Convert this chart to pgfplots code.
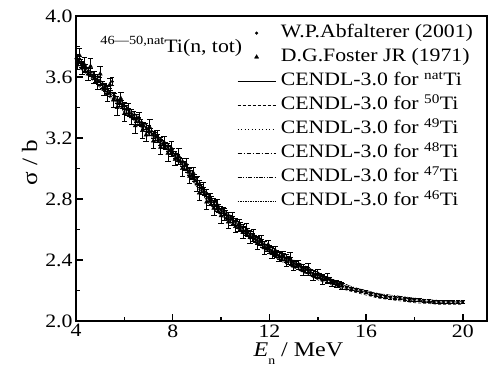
\documentclass[border=0pt]{standalone}
\usepackage{pgfplots}
\pgfplotsset{compat=1.18}
\usepackage{pgfplotstable}
\usepackage{fontspec}
\setmainfont{Liberation Serif}[FakeStretch=1.15]

\pgfplotstableread{
E nat t50 t49 t48 t47 t46
4.0 3.71 3.68 3.72 3.70 3.73 3.69
4.5 3.64 3.61 3.65 3.63 3.66 3.62
5.0 3.56 3.53 3.57 3.55 3.58 3.54
5.5 3.48 3.45 3.49 3.47 3.50 3.46
6.0 3.40 3.37 3.41 3.39 3.42 3.38
6.5 3.33 3.30 3.34 3.32 3.35 3.31
7.0 3.25 3.22 3.26 3.24 3.27 3.23
7.5 3.18 3.15 3.19 3.17 3.20 3.16
8.0 3.11 3.08 3.12 3.10 3.13 3.09
8.5 3.02 2.99 3.03 3.01 3.04 3.00
9.0 2.91 2.88 2.92 2.90 2.93 2.89
9.5 2.80 2.77 2.81 2.79 2.82 2.78
10.0 2.72 2.69 2.73 2.71 2.74 2.70
10.5 2.66 2.63 2.67 2.65 2.68 2.64
11.0 2.59 2.56 2.60 2.58 2.61 2.57
11.5 2.53 2.50 2.54 2.52 2.55 2.51
12.0 2.47 2.44 2.48 2.46 2.49 2.45
12.5 2.42 2.39 2.43 2.41 2.44 2.40
13.0 2.38 2.35 2.39 2.37 2.40 2.36
13.5 2.34 2.31 2.35 2.33 2.36 2.32
14.0 2.30 2.27 2.31 2.29 2.32 2.28
14.5 2.27 2.24 2.28 2.26 2.28 2.25
15.0 2.24 2.21 2.25 2.23 2.25 2.22
15.5 2.21 2.19 2.22 2.20 2.22 2.20
16.0 2.19 2.17 2.20 2.18 2.20 2.18
16.5 2.17 2.15 2.18 2.16 2.18 2.16
17.0 2.16 2.14 2.17 2.15 2.17 2.15
17.5 2.15 2.13 2.16 2.14 2.16 2.14
18.0 2.14 2.12 2.15 2.13 2.15 2.13
18.5 2.13 2.115 2.14 2.125 2.14 2.12
19.0 2.125 2.11 2.135 2.12 2.135 2.115
19.5 2.125 2.11 2.13 2.12 2.13 2.115
20.0 2.125 2.11 2.13 2.12 2.13 2.115
}\cendl

\pgfplotstableread{
E s err
4.0 3.72 0.025
4.1 3.70 0.025
4.2 3.69 0.025
4.3 3.68 0.025
4.4 3.66 0.025
4.5 3.64 0.025
4.6 3.63 0.025
4.7 3.61 0.025
4.8 3.59 0.025
4.9 3.58 0.025
5.0 3.57 0.025
5.1 3.55 0.025
5.2 3.53 0.025
5.3 3.52 0.025
5.4 3.50 0.025
5.5 3.57 0.025
5.6 3.47 0.025
5.7 3.45 0.025
5.8 3.43 0.025
5.9 3.42 0.025
6.0 3.41 0.025
6.1 3.39 0.025
6.2 3.37 0.025
6.3 3.36 0.025
6.4 3.35 0.025
6.5 3.33 0.025
6.6 3.31 0.025
6.7 3.30 0.025
6.8 3.28 0.025
6.9 3.27 0.025
7.0 3.26 0.025
7.1 3.24 0.025
7.2 3.22 0.025
7.3 3.21 0.025
7.4 3.20 0.025
7.5 3.18 0.025
7.6 3.16 0.025
7.7 3.15 0.025
7.8 3.14 0.025
7.9 3.12 0.025
8.0 3.11 0.025
8.1 3.09 0.025
8.2 3.07 0.025
8.3 3.05 0.025
8.4 3.04 0.025
8.5 3.02 0.025
8.6 3.00 0.025
8.7 2.98 0.025
8.8 2.96 0.025
8.9 2.94 0.025
9.0 2.92 0.025
9.1 2.90 0.025
9.2 2.87 0.025
9.3 2.85 0.025
9.4 2.84 0.025
9.5 2.81 0.025
9.6 2.79 0.025
9.7 2.78 0.025
9.8 2.76 0.025
9.9 2.74 0.025
10.0 2.73 0.025
10.1 2.72 0.025
10.2 2.70 0.025
10.3 2.69 0.025
10.4 2.67 0.025
10.5 2.66 0.025
10.6 2.65 0.025
10.7 2.63 0.025
10.8 2.62 0.025
10.9 2.61 0.025
11.0 2.59 0.025
11.1 2.58 0.025
11.2 2.57 0.025
11.3 2.55 0.025
11.4 2.54 0.025
11.5 2.53 0.025
11.6 2.52 0.025
11.7 2.51 0.025
11.8 2.50 0.025
11.9 2.48 0.025
12.0 2.47 0.025
12.1 2.46 0.025
12.2 2.45 0.025
12.3 2.44 0.025
12.4 2.43 0.025
12.5 2.42 0.025
12.6 2.42 0.025
12.7 2.41 0.025
12.8 2.40 0.025
12.9 2.39 0.025
13.0 2.38 0.02
13.1 2.37 0.02
13.2 2.36 0.02
13.3 2.355 0.02
13.4 2.35 0.02
13.5 2.34 0.02
13.6 2.33 0.02
13.7 2.32 0.02
13.8 2.31 0.02
13.9 2.305 0.02
14.0 2.30 0.015
14.1 2.295 0.015
14.2 2.29 0.015
14.3 2.28 0.015
14.4 2.27 0.015
14.5 2.27 0.015
14.6 2.26 0.015
14.7 2.255 0.015
14.8 2.25 0.015
14.9 2.245 0.015
15.0 2.24 0.015
15.2 2.22 0.01
15.4 2.21 0.01
15.6 2.205 0.01
15.8 2.195 0.01
16.0 2.19 0.01
16.2 2.18 0.01
16.4 2.17 0.01
16.6 2.165 0.01
16.8 2.16 0.01
17.0 2.155 0.01
17.2 2.15 0.01
17.4 2.15 0.01
17.6 2.145 0.01
17.8 2.14 0.01
18.0 2.14 0.01
18.2 2.14 0.01
18.4 2.13 0.01
18.6 2.13 0.01
18.8 2.125 0.01
19.0 2.125 0.01
19.2 2.125 0.01
19.4 2.125 0.01
19.6 2.125 0.01
19.8 2.125 0.01
20.0 2.125 0.01
}\abf

\pgfplotstableread{
E s err
4.05 3.70 0.05
4.15 3.74 0.05
4.25 3.66 0.04
4.35 3.68 0.05
4.5 3.62 0.04
4.6 3.67 0.05
4.75 3.60 0.04
4.9 3.57 0.05
5.0 3.62 0.05
5.15 3.52 0.04
5.3 3.49 0.05
5.4 3.55 0.04
5.55 3.45 0.05
5.7 3.40 0.05
5.85 3.46 0.04
6.0 3.36 0.05
6.15 3.39 0.04
6.3 3.34 0.05
6.45 3.28 0.05
6.6 3.33 0.04
6.75 3.25 0.05
6.9 3.22 0.04
7.05 3.27 0.05
7.2 3.18 0.05
7.35 3.21 0.04
7.5 3.14 0.05
7.65 3.17 0.04
7.8 3.10 0.05
7.95 3.13 0.05
8.1 3.06 0.04
8.25 3.08 0.05
8.4 3.00 0.05
8.55 3.03 0.04
8.7 2.95 0.05
8.85 2.97 0.04
9.0 2.90 0.05
9.1 2.84 0.05
9.25 2.87 0.04
9.4 2.78 0.05
9.55 2.80 0.04
9.7 2.74 0.05
9.85 2.76 0.04
10.0 2.69 0.05
10.15 2.70 0.04
10.3 2.65 0.04
10.45 2.67 0.04
10.6 2.62 0.04
10.75 2.63 0.04
10.9 2.58 0.04
11.05 2.60 0.04
11.2 2.55 0.04
11.35 2.56 0.04
11.5 2.51 0.04
11.65 2.53 0.03
11.8 2.48 0.04
11.95 2.50 0.03
12.1 2.45 0.04
12.25 2.46 0.03
12.4 2.42 0.03
12.55 2.43 0.03
12.7 2.39 0.03
12.85 2.41 0.04
13.0 2.36 0.03
13.2 2.37 0.03
13.4 2.33 0.03
13.6 2.34 0.04
13.8 2.30 0.03
14.0 2.31 0.03
14.2 2.27 0.03
14.4 2.28 0.03
14.6 2.25 0.02
14.8 2.24 0.02
15.0 2.23 0.02
}\fos

\begin{document}
\begin{tikzpicture}
\path[use as bounding box] (-76bp,-59bp) rectangle (418bp,321bp);
\begin{axis}[
  scale only axis, width=411bp, height=305bp,
  at={(0,0)}, anchor=south west,
  xmin=4, xmax=21, ymin=2.0, ymax=4.0,
  xtick={4,8,12,16,20},
  ytick={2.0,2.4,2.8,3.2,3.6,4.0},
  minor tick num=1,
  tick pos=left, tick align=inside,
  major tick length=7bp, minor tick length=4.5bp,
  every tick/.style={line width=1.5bp, black},
  axis line style={line width=1.6bp},
  /pgf/number format/assume math mode=true,
  yticklabel style={/pgf/number format/fixed, /pgf/number format/precision=1, /pgf/number format/fixed zerofill},
  tick label style={font=\fontsize{19}{22}\selectfont},
  xlabel={\textit{E}\raisebox{-0.35em}{\fontsize{12}{12}\selectfont n} / MeV},
  ylabel={σ / b},
  xlabel style={at={(axis cs:13.2,1.764)}, anchor=base, font=\fontsize{21}{24}\selectfont},
  ylabel style={at={(axis cs:2.39,3.04)}, anchor=base, font=\fontsize{22}{24}\selectfont},
  legend cell align=left,
  legend image code/.code={\draw[mark repeat=2,mark phase=2,#1] plot coordinates {(0bp,0bp) (19bp,0bp) (38bp,0bp)};},
  legend style={draw=none, fill=none, at={(rel axis cs:0.392,0.975)}, anchor=north west,
    font=\fontsize{19}{22}\selectfont, row sep=5.5bp, inner sep=0pt,
    nodes={inner ysep=0pt, text height=14bp, text depth=4.5bp},
    /tikz/every odd column/.append style={column sep=3bp}},
]
\addplot[only marks, mark=*, mark size=1.4bp, black,
  error bars/.cd, y dir=both, y explicit, error bar style={line width=0.6bp}, error mark options={rotate=90, mark size=2.2bp, line width=0.6bp}]
  table[x=E, y=s, y error=err] {\abf};
\addlegendentry{W.P.Abfalterer (2001)}
\addplot[only marks, mark=triangle*, mark size=2.4bp, black,
  error bars/.cd, y dir=both, y explicit, error bar style={line width=0.6bp}, error mark options={rotate=90, mark size=2.8bp, line width=0.6bp}]
  table[x=E, y=s, y error=err] {\fos};
\addlegendentry{D.G.Foster JR (1971)}
\addplot[black, line width=0.6bp] table[x=E, y=nat] {\cendl};
\addlegendentry{CENDL-3.0 for \textsuperscript{nat}Ti}
\addplot[black, line width=0.6bp, dash pattern=on 3bp off 2bp] table[x=E, y=t50] {\cendl};
\addlegendentry{CENDL-3.0 for \textsuperscript{50}Ti}
\addplot[black, line width=0.6bp, dash pattern=on 1bp off 2.5bp] table[x=E, y=t49] {\cendl};
\addlegendentry{CENDL-3.0 for \textsuperscript{49}Ti}
\addplot[black, line width=0.6bp, dash pattern=on 4bp off 2bp on 1bp off 2bp] table[x=E, y=t48] {\cendl};
\addlegendentry{CENDL-3.0 for \textsuperscript{48}Ti}
\addplot[black, line width=0.6bp, dash pattern=on 4bp off 1.5bp on 1bp off 1.5bp on 1bp off 1.5bp] table[x=E, y=t47] {\cendl};
\addlegendentry{CENDL-3.0 for \textsuperscript{47}Ti}
\addplot[black, line width=0.6bp, dash pattern=on 1.5bp off 1bp] table[x=E, y=t46] {\cendl};
\addlegendentry{CENDL-3.0 for \textsuperscript{46}Ti}
\node[anchor=west, inner sep=0pt, font=\fontsize{19}{22}\selectfont] at (axis cs:5.0,3.80)
  {\raisebox{0.45em}{\fontsize{12.5}{13}\selectfont 46—50,nat}Ti(n, tot)};
\end{axis}
\end{tikzpicture}
\end{document}
